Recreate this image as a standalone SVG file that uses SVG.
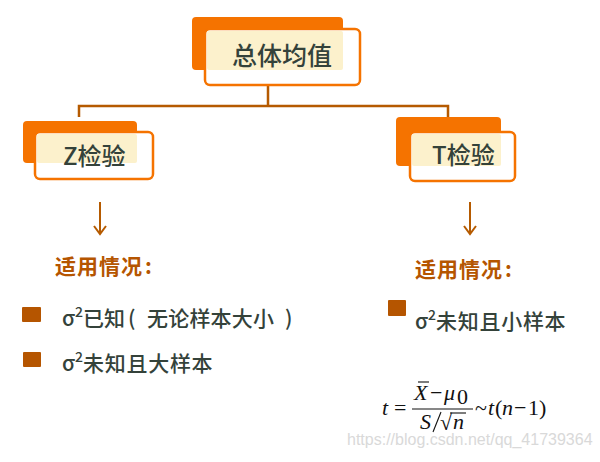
<svg xmlns="http://www.w3.org/2000/svg" width="600" height="462" viewBox="0 0 600 462">
<style>
.back{fill:#F57300}
.front{fill:#fff;stroke:#F57300;stroke-width:2.5}
.cream{fill:#FCF1CC}
.lbl{font-family:"Noto Sans CJK SC","Liberation Sans",sans-serif;font-weight:500;fill:#34423A}
.conn{fill:none;stroke:#B55A00;stroke-width:2.5}
.arrow{fill:none;stroke:#B55A00;stroke-width:2}
.head{font-family:"Noto Sans CJK SC",sans-serif;font-weight:bold;font-size:21px;fill:#B55500}
.bul{fill:#B55500}
.txt{font-family:"Noto Sans CJK SC","Liberation Sans",sans-serif;font-weight:500;font-size:21px;fill:#34423A}
.m{font-family:"Liberation Serif",serif;font-size:22px;fill:#111}
.mi{font-family:"Liberation Serif",serif;font-size:22px;font-style:italic;fill:#111}
</style>
<rect width="600" height="462" fill="#fff"/>
<g id="connectors">
<path class="conn" d="M268 85 V106 M79 117 V106 H448 V117"/>
<path class="arrow" d="M100 202 V234 M94 226 L100 234 L106 226"/>
<path class="arrow" d="M470 202 V234 M464 226 L470 234 L476 226"/>
</g>
<g id="node-total">
<rect class="back" x="192" y="17" width="151" height="53" rx="4"/>
<rect class="front" x="205" y="29" width="155" height="56" rx="5"/>
<rect class="cream" x="207" y="31" width="136" height="39" rx="2"/>
<text class="lbl" x="232" y="65" font-size="25">总体均值</text>
</g>
<g id="node-z">
<rect class="back" x="23" y="121" width="114" height="42" rx="4"/>
<rect class="front" x="35" y="132" width="118" height="47" rx="5"/>
<rect class="cream" x="37" y="134" width="100" height="29" rx="2"/>
<text class="lbl" x="63" y="165" font-size="24">Z检验</text>
</g>
<g id="node-t">
<rect class="back" x="396" y="117" width="105" height="49" rx="4"/>
<rect class="front" x="410" y="132" width="105" height="49" rx="5"/>
<rect class="cream" x="412" y="134" width="89" height="32" rx="2"/>
<text class="lbl" x="432" y="164" font-size="24">T检验</text>
</g>
<g id="z-cases">
<text class="head" x="55" y="274" letter-spacing="1">适用情况<tspan dx="2">:</tspan></text>
<rect class="bul" x="22" y="307" width="19" height="15" rx="1"/>
<text class="txt" x="62" y="326">σ<tspan font-size="14" dy="-9">2</tspan><tspan dy="9">已知</tspan><tspan x="128">(</tspan><tspan x="147" letter-spacing="0.2">无论样本大小</tspan><tspan x="285">)</tspan></text>
<rect class="bul" x="23" y="352" width="18" height="15" rx="1"/>
<text class="txt" x="62" y="371">σ<tspan font-size="14" dy="-9">2</tspan><tspan dy="9" letter-spacing="0.7">未知且大样本</tspan></text>
</g>
<g id="t-cases">
<text class="head" x="415" y="277" letter-spacing="1">适用情况<tspan dx="2">:</tspan></text>
<rect class="bul" x="388" y="300" width="18" height="16" rx="1"/>
<text class="txt" x="415" y="329">σ<tspan font-size="14" dy="-9">2</tspan><tspan dy="9" letter-spacing="0.7">未知且小样本</tspan></text>
</g>
<text x="347" y="445" font-family="Liberation Sans,sans-serif" font-size="16" fill="#d9d9d9">https://blog.csdn.net/qq_41739364</text>
<g id="formula">
<text class="mi" x="382" y="415">t</text>
<text class="m" x="394" y="415">=</text>
<line x1="412" y1="409" x2="473" y2="409" stroke="#111" stroke-width="1.1"/>
<text class="mi" x="414" y="400">X</text>
<line x1="418" y1="382" x2="429" y2="382" stroke="#111" stroke-width="1.1"/>
<text class="m" x="430" y="400">−</text>
<text class="mi" x="444" y="400">μ</text>
<text class="m" x="457" y="404" font-size="14">0</text>
<text class="mi" x="420" y="429">S</text>
<line x1="441" y1="412" x2="433" y2="432" stroke="#111" stroke-width="1.1"/>
<text class="m" x="440" y="430">√</text>
<line x1="450" y1="413" x2="466" y2="413" stroke="#111" stroke-width="1.1"/>
<text class="mi" x="453" y="429">n</text>
<text class="m" x="475" y="415">~</text>
<text class="mi" x="488" y="415">t</text>
<text class="m" x="495" y="415">(</text>
<text class="mi" x="502" y="415">n</text>
<text class="m" x="514" y="415">−</text>
<text class="m" x="528" y="415">1</text>
<text class="m" x="539" y="415">)</text>
</g>
</svg>
